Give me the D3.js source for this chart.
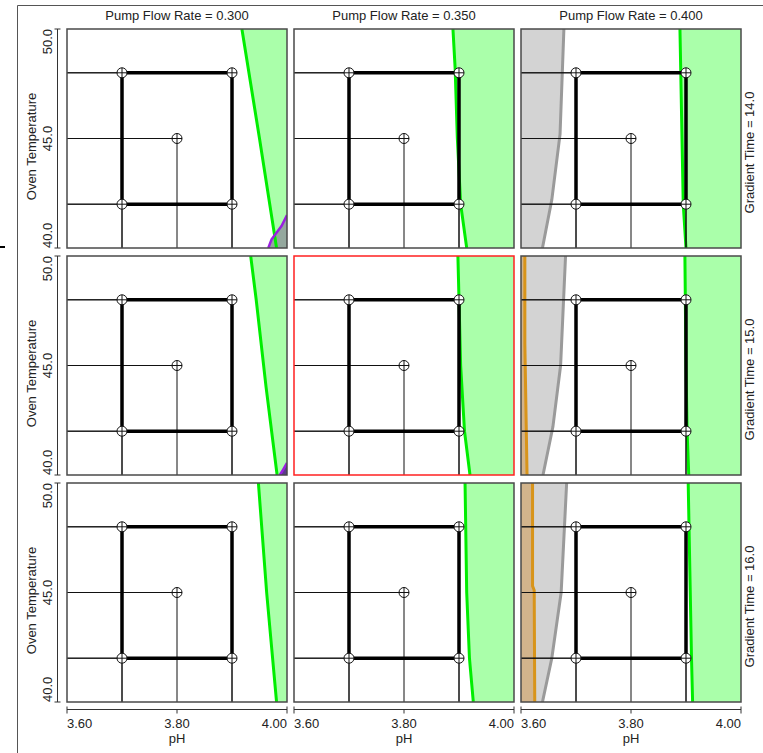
<!DOCTYPE html>
<html>
<head>
<meta charset="utf-8">
<script src="https://cdn.jsdelivr.net/npm/d3@7"></script>
<style>
  body { margin: 0; background: #fff; }
  svg text { font-family: "Liberation Sans", Arial, sans-serif; font-size: 13px; fill: #222; }
</style>
</head>
<body>
<svg width="763" height="753"></svg>
<script>
// facet categories
var flowRates = [0.300, 0.350, 0.400];
var gradientTimes = [14.0, 15.0, 16.0];
var phTicks = [3.60, 3.80, 4.00];
var tempTicks = [40.0, 45.0, 50.0];

// design points (pH, oven temperature)
var designPH = [3.7, 3.9, 3.9, 3.7, 3.8];
var designTemp = [48, 48, 42, 42, 45];

// contour edges per [gradient row][flow column], as [pH, temp]
var greenEdge = [
  [[[3.918, 50], [3.950, 45], [3.981, 40]],
   [[3.889, 50], [3.893, 48.2], [3.897, 45], [3.903, 42], [3.914, 40]],
   [[3.889, 50], [3.892, 46], [3.895, 42], [3.900, 40]]],
  [[[3.934, 50], [3.944, 48], [3.962, 44], [3.982, 40]],
   [[3.898, 50], [3.903, 45], [3.910, 42], [3.920, 40]],
   [[3.898, 50], [3.900, 45], [3.902, 42], [3.905, 40]]],
  [[[3.948, 50], [3.963, 45], [3.981, 40]],
   [[3.911, 50], [3.914, 45], [3.919, 42], [3.926, 40]],
   [[3.904, 50], [3.907, 46], [3.910, 42], [3.912, 40]]]
];
var grayEdge = [
  [null, null, [[3.678, 50], [3.671, 45.2], [3.656, 42.2], [3.639, 40]]],
  [null, null, [[3.681, 50], [3.672, 45], [3.658, 42.2], [3.640, 40]]],
  [null, null, [[3.683, 50], [3.673, 45], [3.656, 42], [3.639, 40]]]
];
var orangeEdge = [
  [null, null, null],
  [null, null, [[3.607, 50], [3.607, 46], [3.611, 40]]],
  [null, null, [[3.621, 50], [3.621, 45.3], [3.624, 45.1], [3.625, 40]]]
];
var purpleEdge = [
  [[[4.0, 41.5], [3.99, 41.0], [3.972, 40.4], [3.966, 40]], null, null],
  [[[4.0, 40.55], [3.993, 40.25], [3.987, 40]], null, null],
  [null, null, null]
];

var svg = d3.select("svg");

var colBand = d3.scaleBand().domain(d3.range(3)).range([67, 741]).paddingInner(7 / 227);
var rowBand = d3.scaleBand().domain(d3.range(3)).range([29, 702]).paddingInner(8 / 227);
var W = colBand.bandwidth(), H = rowBand.bandwidth();

var x = d3.scaleLinear().domain([3.6, 4.0]).range([0, W]);
var y = d3.scaleLinear().domain([40, 50]).range([H, 0]);

var line = d3.line().x(function(d) { return x(d[0]); }).y(function(d) { return y(d[1]); });

// outer frame
svg.append("path").attr("d", "M17.5,753V5.5H763").attr("fill", "none").attr("stroke", "#555");
svg.append("line").attr("x1", 0).attr("x2", 5).attr("y1", 247).attr("y2", 247).attr("stroke", "#000").attr("stroke-width", 2);

var defs = svg.append("defs");
defs.append("clipPath").attr("id", "pclip").append("rect").attr("width", W).attr("height", H);

gradientTimes.forEach(function(gt, r) {
  flowRates.forEach(function(fr, c) {
    var g = svg.append("g").attr("transform", "translate(" + colBand(c) + "," + rowBand(r) + ")");
    var inner = g.append("g").attr("clip-path", "url(#pclip)");

    var ge = grayEdge[r][c];
    if (ge) {
      inner.append("path").attr("d", line(ge.concat([[3.55, 40], [3.55, 50]])) + "Z").attr("fill", "#d3d3d3");
    }
    var oe = orangeEdge[r][c];
    if (oe) {
      inner.append("path").attr("d", line(oe.concat([[3.55, 40], [3.55, 50]])) + "Z").attr("fill", "#d2b48c");
    }
    var gr = greenEdge[r][c];
    if (gr) {
      inner.append("path").attr("d", line(gr.concat([[4.05, 40], [4.05, 50]])) + "Z").attr("fill", "#aaffaa");
    }
    var pe = purpleEdge[r][c];
    if (pe) {
      inner.append("path").attr("d", line(pe.concat([[4.05, 39.9], [4.05, pe[0][1]]])) + "Z")
        .attr("fill", r === 0 ? "#94a89e" : "#5b3a8c");
    }
    if (ge) inner.append("path").attr("d", line(ge)).attr("fill", "none").attr("stroke", "#9a9a9a").attr("stroke-width", 3);
    if (oe) inner.append("path").attr("d", line(oe)).attr("fill", "none").attr("stroke", "#d8941a").attr("stroke-width", 3);
    if (gr) inner.append("path").attr("d", line(gr)).attr("fill", "none").attr("stroke", "#00ee00").attr("stroke-width", 3);
    if (pe) inner.append("path").attr("d", line(pe)).attr("fill", "none").attr("stroke", "#9a1fe0").attr("stroke-width", 2.5);

    // drop lines from design points to the left and bottom edges
    designPH.forEach(function(p, i) {
      var t = designTemp[i];
      inner.append("line").attr("x1", x(3.6)).attr("x2", x(p)).attr("y1", y(t)).attr("y2", y(t))
        .attr("stroke", "#111").attr("stroke-width", 1);
      inner.append("line").attr("x1", x(p)).attr("x2", x(p)).attr("y1", y(t)).attr("y2", y(40))
        .attr("stroke", "#111").attr("stroke-width", 1);
    });

    // design space box
    var box = d3.range(4).map(function(i) { return [designPH[i], designTemp[i]]; });
    inner.append("path").attr("d", line(box) + "Z").attr("fill", "none")
      .attr("stroke", "#000").attr("stroke-width", 3.5);

    designPH.forEach(function(p, i) {
      var cx = x(p), cy = y(designTemp[i]);
      inner.append("circle").attr("cx", cx).attr("cy", cy).attr("r", 5)
        .attr("fill", "#fff").attr("stroke", "#111").attr("stroke-width", 1);
      inner.append("path").attr("d", "M" + (cx - 5) + "," + cy + "H" + (cx + 5) + "M" + cx + "," + (cy - 5) + "V" + (cy + 5))
        .attr("stroke", "#111").attr("stroke-width", 1);
    });

    g.append("rect").attr("x", 0).attr("y", 0).attr("width", W).attr("height", H)
      .attr("fill", "none")
      .attr("stroke", (r === 1 && c === 1) ? "#ff2020" : "#4a4a4a")
      .attr("stroke-width", 1.5);
  });
});

// column titles
flowRates.forEach(function(fr, c) {
  svg.append("text").attr("x", colBand(c) + W / 2).attr("y", 20).attr("text-anchor", "middle")
    .text("Pump Flow Rate = " + fr.toFixed(3));
});

// row titles and y axes
gradientTimes.forEach(function(gt, r) {
  var top = rowBand(r), mid = top + H / 2;
  svg.append("text").attr("transform", "translate(754," + (mid + 14) + ") rotate(-90)")
    .attr("text-anchor", "middle").text("Gradient Time = " + gt.toFixed(1));
  svg.append("text").attr("transform", "translate(36," + (mid + 8) + ") rotate(-90)")
    .attr("text-anchor", "middle").text("Oven Temperature");

  var ya = svg.append("g").attr("transform", "translate(57.5," + top + ")");
  ya.append("line").attr("x1", 0).attr("x2", 0).attr("y1", y(50)).attr("y2", y(40)).attr("stroke", "#333");
  tempTicks.forEach(function(t, i) {
    if (i !== 1) ya.append("line").attr("x1", -3).attr("x2", 3).attr("y1", y(t)).attr("y2", y(t)).attr("stroke", "#333");
    ya.append("text").attr("transform", "translate(-6," + y(t) + ") rotate(-90)")
      .attr("text-anchor", i === 0 ? "start" : (i === 2 ? "end" : "middle"))
      .text(t.toFixed(1));
  });
});

// x axes under each column
flowRates.forEach(function(fr, c) {
  var xa = svg.append("g").attr("transform", "translate(" + colBand(c) + ",709.5)");
  xa.append("line").attr("x1", x(3.6)).attr("x2", x(4.0)).attr("y1", 0).attr("y2", 0).attr("stroke", "#333");
  phTicks.forEach(function(p, i) {
    xa.append("line").attr("x1", x(p)).attr("x2", x(p)).attr("y1", i === 1 ? 0 : -3).attr("y2", 4).attr("stroke", "#333");
    xa.append("text").attr("x", x(p)).attr("y", 18)
      .attr("text-anchor", i === 0 ? "start" : (i === 2 ? "end" : "middle"))
      .text(p.toFixed(2));
  });
  xa.append("text").attr("x", W / 2).attr("y", 33).attr("text-anchor", "middle").text("pH");
});
</script>
</body>
</html>
